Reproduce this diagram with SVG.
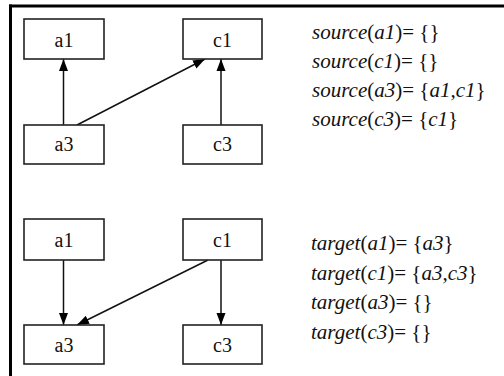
<svg xmlns="http://www.w3.org/2000/svg" width="504" height="376" viewBox="0 0 504 376">
<defs>
<style>
.box{fill:#fff;stroke:#222;stroke-width:1.6}
.lbl{font-size:20px;fill:#111;text-anchor:middle}
.eq{font-size:21px;fill:#111}
.i{font-style:italic}
.edge{stroke:#111;stroke-width:1.5;fill:none;marker-end:url(#ah)}
.frame{stroke:#000;stroke-width:3;fill:none}
</style>
<marker id="ah" markerUnits="userSpaceOnUse" markerWidth="12" markerHeight="12" viewBox="0 0 12 12" refX="12" refY="6" orient="auto">
<path d="M0,1.5 L12,6 L0,10.5 Z" fill="#000"/>
</marker>
</defs>
<rect width="504" height="376" fill="#fff"/>
<g id="frame">
<line class="frame" x1="9" y1="6" x2="504" y2="6"/>
<line class="frame" x1="10.5" y1="4.5" x2="10.5" y2="376"/>
</g>
<g id="connectors">
<line class="edge" x1="63.5" y1="125" x2="63.5" y2="59"/>
<line class="edge" x1="77" y1="125" x2="205" y2="59"/>
<line class="edge" x1="221" y1="125" x2="221" y2="59"/>
<line class="edge" x1="63.5" y1="260" x2="63.5" y2="325"/>
<line class="edge" x1="208" y1="260" x2="77" y2="325"/>
<line class="edge" x1="221" y1="260" x2="221" y2="325"/>
</g>
<g font-family="'Liberation Serif', 'DejaVu Serif', serif">
<g id="s_a1"><rect class="box" x="24" y="19" width="80" height="40"/><text class="lbl" x="64" y="47">a1</text></g>
<g id="s_c1"><rect class="box" x="183" y="19" width="79" height="40"/><text class="lbl" x="222.5" y="47">c1</text></g>
<g id="s_a3"><rect class="box" x="24" y="125" width="80" height="39"/><text class="lbl" x="64" y="151">a3</text></g>
<g id="s_c3"><rect class="box" x="183" y="125" width="79" height="39"/><text class="lbl" x="222.5" y="151">c3</text></g>
<g id="t_a1"><rect class="box" x="24" y="219" width="80" height="41"/><text class="lbl" x="64" y="246.5">a1</text></g>
<g id="t_c1"><rect class="box" x="183" y="219" width="79" height="41"/><text class="lbl" x="222.5" y="246.5">c1</text></g>
<g id="t_a3"><rect class="box" x="24" y="325" width="80" height="39"/><text class="lbl" x="64" y="352">a3</text></g>
<g id="t_c3"><rect class="box" x="183" y="325" width="79" height="39"/><text class="lbl" x="222.5" y="352">c3</text></g>
<g id="equations">
<text class="eq" x="312" y="39"><tspan class="i">source</tspan>(<tspan class="i">a1</tspan>)= {}</text>
<text class="eq" x="312" y="68"><tspan class="i">source</tspan>(<tspan class="i">c1</tspan>)= {}</text>
<text class="eq" x="312" y="97"><tspan class="i">source</tspan>(<tspan class="i">a3</tspan>)= {<tspan class="i">a1,c1</tspan>}</text>
<text class="eq" x="312" y="126"><tspan class="i">source</tspan>(<tspan class="i">c3</tspan>)= {<tspan class="i">c1</tspan>}</text>
<text class="eq" x="311" y="250"><tspan class="i">target</tspan>(<tspan class="i">a1</tspan>)= {<tspan class="i">a3</tspan>}</text>
<text class="eq" x="311" y="280"><tspan class="i">target</tspan>(<tspan class="i">c1</tspan>)= {<tspan class="i">a3,c3</tspan>}</text>
<text class="eq" x="311" y="309"><tspan class="i">target</tspan>(<tspan class="i">a3</tspan>)= {}</text>
<text class="eq" x="311" y="339"><tspan class="i">target</tspan>(<tspan class="i">c3</tspan>)= {}</text>
</g>
</g>
</svg>
